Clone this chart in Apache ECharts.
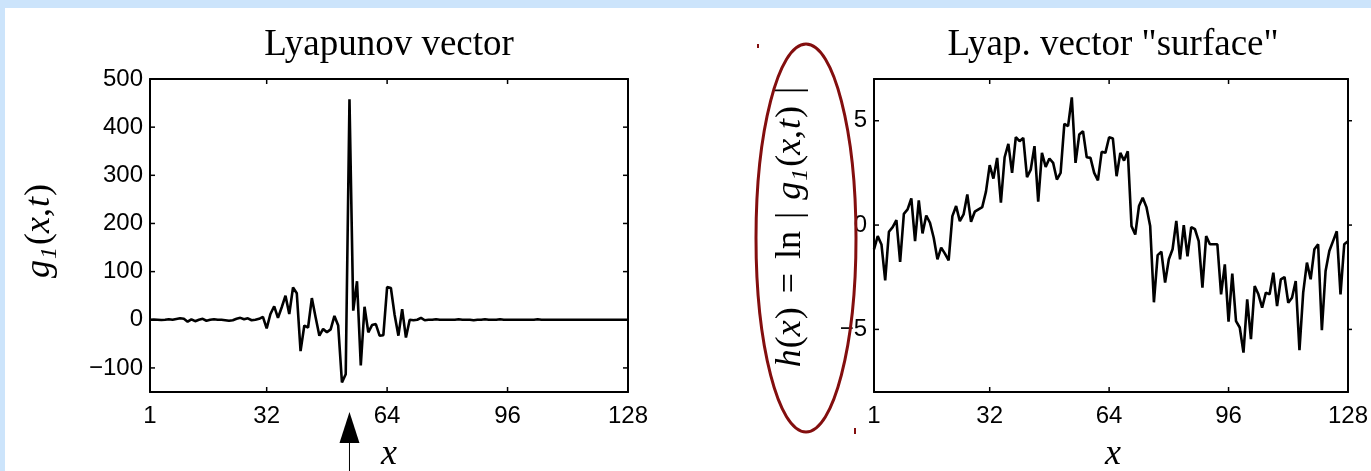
<!DOCTYPE html>
<html>
<head>
<meta charset="utf-8">
<script src="https://cdn.jsdelivr.net/npm/echarts@6/dist/echarts.min.js"></script>
<style>
  html, body { margin: 0; padding: 0; background: #cce4fb; overflow: hidden; }
  #frame { position: absolute; left: 5px; top: 8px; right: 0; bottom: 0; background: #ffffff; }
  #chart { position: absolute; left: 0; top: 0; width: 1371px; height: 471px; }
</style>
</head>
<body>
<div id="frame"></div>
<div id="chart"></div>
<script>
// Tick positions
const xTicks = [1, 32, 64, 96, 128];
const gTicks = [-100, 0, 100, 200, 300, 400, 500];
const hTicks = [-5, 0, 5];

// g_1(x,t): Lyapunov vector components at sites x = 1..128
const lyapVector = [
  0, 0.5, 0, -0.5, 0, 1, 0, 1.5, 3, 2,
  -4, 1, -3, 0, 2, -2, 0, 1, 0, 0,
  -1, -2, -1, 2, 4, 1, 3, -1, 0, 2,
  6, -18, 12, 28, 4, 26, 50, 12, 67, 55,
  -65, -12, -16, 45, 5, -33, -19, -26, -20, 8,
  -12, -130, -113, 458, 19, 80, -95, 27, -26, -11,
  -9, -33, -32, 68, 66, 10, -33, 22, -37, 0,
  -1, 0, 4, -1, 0, 0, 1, 0, 0, 0,
  0, 0, 1, 0, 0, 0, -1, 0, 0, 1,
  0, 0, 0, 1, 0, 0, 0, 0, 0, 0,
  0, 0, 0, 1, 0, 0, 0, 0, 0, 0,
  0, 0, 0, 0, 0, 0, 0, 0, 0, 0,
  0, 0, 0, 0, 0, 0, 0, 0
];

// h(x) = ln|g_1(x,t)|: the Lyapunov vector "surface"
const surfaceH = [
  -1.16, -0.53, -0.93, -2.65, -0.32, -0.1, 0.24, -1.77, 0.54, 0.75,
  1.28, -0.77, 1.18, -0.4, 0.46, 0.11, -0.61, -1.64, -1.08, -1.37,
  -1.69, 0.43, 0.91, 0.19, 0.51, 1.47, 0.16, 0.64, 0.75, 0.86,
  1.6, 2.87, 2.23, 3.22, 1.07, 3.25, 3.89, 2.5, 4.21, 4.02,
  4.18, 2.3, 2.66, 3.78, 1.12, 3.46, 2.79, 3.19, 2.98, 2.18,
  2.5, 4.85, 4.74, 6.12, 2.98, 4.34, 4.5, 3.25, 3.22, 2.5,
  2.14, 3.51, 3.46, 4.21, 4.15, 2.34, 3.46, 3.09, 3.54, -0.05,
  -0.45, 0.91, 1.31, 0.86, -0.05, -3.7, -1.44, -1.28, -2.76, -1.64,
  -1.16, 0.2, -1.64, 0.0, -1.5, -0.1, -0.2, -0.77, -3.0, -0.53,
  -0.92, -0.92, -0.92, -3.32, -1.88, -4.63, -2.33, -4.6, -4.91, -6.11,
  -3.56, -5.47, -2.92, -3.32, -3.96, -3.24, -3.32, -2.28, -3.88, -2.6,
  -2.49, -3.72, -3.48, -2.68, -6.0, -3.24, -1.8, -2.6, -1.16, -0.92,
  -5.04, -2.2, -1.24, -0.77, -0.3, -3.32, -0.92, -0.77
];

const titles = ['Lyapunov vector', 'Lyap. vector "surface"'];

// Axis-name formulas as [text, style, gap before] pieces: i = italic, n = upright, s = subscript
const gLabel = [['g', 'i', 0], ['1', 's', 1], ['(', 'n', 2], ['x', 'i', 0], [',', 'n', 0], ['t', 'i', 1], [')', 'n', 1]];
const hLabel = [['h', 'i', 0], ['(', 'n', 1], ['x', 'i', 0], [')', 'n', 1], ['=', 'n', 14], ['ln', 'n', 14],
                ['|', 'n', 12], ['g', 'i', 12], ['1', 's', 1], ['(', 'n', 2], ['x', 'i', 0], [',', 'n', 0],
                ['t', 'i', 1], [')', 'n', 1], ['|', 'n', 12]];

// Layout of the two panels
const GRID_TOP = 79, GRID_H = 313, GRID_W = 478;
const GRID_LEFT = [150, 874];
const TICK_LEN = 5;
const SANS = 'Liberation Sans';
const SERIF = 'Liberation Serif';

const toPoints = arr => arr.map((v, k) => [k + 1, v]);
const signed = v => String(v).replace('-', '\u2212');

function line() {
  return { show: true, onZero: false, lineStyle: { color: '#000', width: 2 } };
}

function xAxes(gi) {
  return [
    {
      type: 'value', gridIndex: gi, min: 1, max: 128, position: 'bottom',
      axisLine: line(), splitLine: { show: false }, axisTick: { show: false },
      axisLabel: { customValues: xTicks, margin: 12, color: '#000', fontFamily: SANS, fontSize: 24 }
    },
    {
      type: 'value', gridIndex: gi, min: 1, max: 128, position: 'top',
      axisLine: line(), splitLine: { show: false }, axisTick: { show: false },
      axisLabel: { show: false }
    }
  ];
}

function yAxes(gi, min, max, ticks) {
  return [
    {
      type: 'value', gridIndex: gi, min: min, max: max, position: 'left',
      axisLine: line(), splitLine: { show: false }, axisTick: { show: false },
      axisLabel: { customValues: ticks, margin: 7, color: '#000', fontFamily: SANS, fontSize: 24, formatter: signed }
    },
    {
      type: 'value', gridIndex: gi, min: min, max: max, position: 'right',
      axisLine: line(), splitLine: { show: false }, axisTick: { show: false },
      axisLabel: { show: false }
    }
  ];
}

const chart = echarts.init(document.getElementById('chart'), null, { renderer: 'canvas' });

chart.setOption({
  animation: false,
  grid: GRID_LEFT.map(l => ({
    left: l, top: GRID_TOP, width: GRID_W, height: GRID_H, show: false
  })),
  xAxis: xAxes(0).concat(xAxes(1)),
  yAxis: yAxes(0, -150, 500, gTicks).concat(yAxes(1, -8, 7, hTicks)),
  series: [
    {
      type: 'line', xAxisIndex: 0, yAxisIndex: 0, data: toPoints(lyapVector),
      showSymbol: false, lineStyle: { color: '#000', width: 2.6 }, z: 3
    },
    {
      type: 'line', xAxisIndex: 2, yAxisIndex: 2, data: toPoints(surfaceH),
      showSymbol: false, lineStyle: { color: '#000', width: 2.6 }, z: 3
    }
  ]
});

// Rotated math label built from measured pieces
const pieceFont = {
  i: { style: 'italic', size: 36, dy: 0 },
  n: { style: 'normal', size: 36, dy: 0 },
  s: { style: 'italic', size: 24, dy: 10 }
};
const measureCtx = document.createElement('canvas').getContext('2d');
function mathLabel(pieces, cx, cy) {
  let pos = 0;
  const laid = pieces.map(([t, st, gap]) => {
    const f = pieceFont[st];
    measureCtx.font = f.style + ' ' + f.size + 'px "' + SERIF + '"';
    pos += gap;
    const item = { t: t, f: f, x: pos };
    pos += measureCtx.measureText(t).width;
    return item;
  });
  const total = pos;
  return {
    type: 'group', x: cx, y: cy, rotation: Math.PI / 2,
    children: laid.map(p => ({
      type: 'text', x: p.x - total / 2, y: p.f.dy,
      style: {
        text: p.t, fontFamily: SERIF, fontStyle: p.f.style, fontSize: p.f.size,
        fill: '#000', align: 'left', verticalAlign: 'middle'
      }
    }))
  };
}

const graphics = [];

// Inward ticks on all four sides of each panel, placed through the axis scales
const tickStroke = { stroke: '#000', lineWidth: 1.5 };
[[0, gTicks], [1, hTicks]].forEach(([gi, yt]) => {
  const xa = gi * 2, ya = gi * 2;
  const top = GRID_TOP, bottom = GRID_TOP + GRID_H;
  const left = GRID_LEFT[gi], right = GRID_LEFT[gi] + GRID_W;
  xTicks.forEach(v => {
    const px = chart.convertToPixel({ xAxisIndex: xa }, v);
    graphics.push({ type: 'line', shape: { x1: px, y1: bottom, x2: px, y2: bottom - TICK_LEN }, style: tickStroke });
    graphics.push({ type: 'line', shape: { x1: px, y1: top, x2: px, y2: top + TICK_LEN }, style: tickStroke });
  });
  yt.forEach(v => {
    const py = chart.convertToPixel({ yAxisIndex: ya }, v);
    graphics.push({ type: 'line', shape: { x1: left, y1: py, x2: left + TICK_LEN, y2: py }, style: tickStroke });
    graphics.push({ type: 'line', shape: { x1: right, y1: py, x2: right - TICK_LEN, y2: py }, style: tickStroke });
  });
});

const centers = GRID_LEFT.map(l => l + GRID_W / 2);

let peakIdx = 0;
lyapVector.forEach((v, k) => { if (v > lyapVector[peakIdx]) peakIdx = k; });
const peakPx = chart.convertToPixel({ xAxisIndex: 0 }, peakIdx + 1);

titles.forEach((t, k) => {
  graphics.push({
    type: 'text', x: centers[k], y: 45,
    style: { text: t, fontFamily: SERIF, fontSize: 37, fill: '#000', align: 'center', verticalAlign: 'middle' }
  });
  graphics.push({
    type: 'text', x: centers[k], y: 455,
    style: { text: 'x', fontFamily: SERIF, fontStyle: 'italic', fontSize: 36, fill: '#000', align: 'center', verticalAlign: 'middle' }
  });
});

graphics.push(mathLabel(gLabel, 40, 231));
graphics.push(mathLabel(hLabel, 791, 227));

graphics.push({
  type: 'ellipse', shape: { cx: 806, cy: 238, rx: 50, ry: 194 },
  style: { fill: 'none', stroke: '#830e0e', lineWidth: 3 }, z: 10
});
graphics.push({ type: 'rect', shape: { x: 757, y: 44, width: 2, height: 4 }, style: { fill: '#830e0e' } });
graphics.push({ type: 'rect', shape: { x: 854, y: 428, width: 2, height: 6 }, style: { fill: '#830e0e' } });

graphics.push({
  type: 'polygon', shape: { points: [[peakPx, 412], [peakPx - 10, 443], [peakPx + 10, 443]] },
  style: { fill: '#000' }
});
graphics.push({
  type: 'line', shape: { x1: peakPx, y1: 443, x2: peakPx, y2: 471 },
  style: { stroke: '#000', lineWidth: 1 }
});

chart.setOption({ graphic: graphics });
</script>
</body>
</html>
